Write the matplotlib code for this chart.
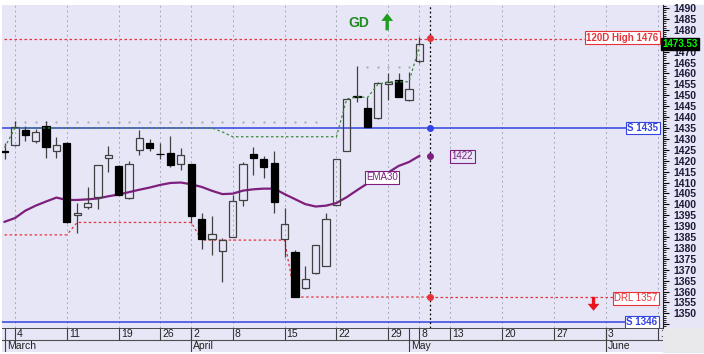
import numpy as np
import matplotlib
matplotlib.use("Agg")
import matplotlib.pyplot as plt
import matplotlib.transforms as mtransforms
from matplotlib.patches import Rectangle
from matplotlib.ticker import MultipleLocator, FuncFormatter

plt.rcParams['font.family'] = ['Liberation Sans', 'DejaVu Sans']

# daily candles (trading-day index 0..40)
opens = [1424.3, 1427.0, 1434.2, 1429.0, 1436.0, 1424.4, 1428.0, 1395.0, 1398.9, 1403.5,
         1421.4, 1417.7, 1402.8, 1424.9, 1428.0, 1423.3, 1423.4, 1418.3, 1418.3, 1393.1,
         1384.0, 1378.7, 1385.1, 1402.0, 1422.9, 1420.8, 1418.8, 1383.9, 1378.0, 1361.5,
         1368.3, 1371.7, 1399.7, 1424.6, 1449.5, 1444.0, 1439.4, 1455.1, 1457.0, 1447.8,
         1465.5]
highs = [1428.0, 1438.3, 1435.9, 1434.5, 1438.2, 1431.0, 1428.5, 1400.6, 1408.1, 1418.2,
         1426.9, 1417.9, 1419.9, 1434.1, 1430.0, 1428.0, 1431.5, 1425.7, 1418.5, 1396.1,
         1394.6, 1384.4, 1404.3, 1419.5, 1426.1, 1422.3, 1424.4, 1398.2, 1379.0, 1371.8,
         1381.5, 1395.9, 1420.8, 1448.5, 1463.6, 1449.3, 1456.0, 1460.1, 1460.4, 1460.8,
         1476.6]
lows = [1421.0, 1426.8, 1429.0, 1428.0, 1421.2, 1421.4, 1391.5, 1386.8, 1397.7, 1397.7,
        1415.0, 1404.2, 1402.5, 1422.6, 1424.4, 1420.8, 1417.3, 1415.7, 1391.6, 1379.4,
        1377.0, 1364.5, 1385.0, 1399.2, 1413.4, 1411.9, 1396.1, 1376.0, 1357.3, 1361.3,
        1368.0, 1371.5, 1399.5, 1424.4, 1446.8, 1435.5, 1439.2, 1447.8, 1449.0, 1447.6,
        1465.0]
closes = [1424.0, 1435.3, 1431.8, 1433.3, 1426.1, 1427.2, 1391.8, 1396.1, 1400.4, 1418.0,
          1422.6, 1404.3, 1418.3, 1430.5, 1426.0, 1423.0, 1418.0, 1422.6, 1394.6, 1384.3,
          1386.4, 1383.6, 1401.5, 1418.3, 1421.1, 1417.2, 1401.2, 1391.0, 1357.6, 1365.6,
          1381.3, 1393.1, 1420.6, 1448.3, 1449.1, 1435.6, 1455.5, 1456.0, 1449.4, 1452.8,
          1473.5]

ema30 = [1392.0, 1393.7, 1397.1, 1399.4, 1401.3, 1403.1, 1402.0, 1402.0, 1402.3, 1402.7,
         1403.7, 1404.5, 1405.6, 1406.7, 1407.7, 1408.9, 1409.8, 1410.0, 1409.2, 1408.0,
         1406.2, 1404.7, 1404.9, 1406.3, 1406.9, 1407.2, 1407.2, 1404.7, 1402.4, 1400.1,
         1399.0, 1399.4, 1400.6, 1403.3, 1406.5, 1409.6, 1412.0, 1414.6, 1417.6, 1419.4,
         1422.2]

trail_stop = [1426.0, 1435.0, 1435.0, 1435.0, 1435.0, 1435.0, 1435.0, 1435.0, 1435.0, 1435.0,
              1435.0, 1435.0, 1435.0, 1435.0, 1435.0, 1435.0, 1435.0, 1435.0, 1435.0, 1435.0,
              1435.0, 1433.2, 1431.0, 1431.0, 1431.0, 1431.0, 1431.0, 1431.0, 1431.0, 1431.0,
              1431.0, 1431.0, 1431.0, 1448.3, 1449.3, 1449.0, 1455.0, 1456.2, 1456.2, 1456.2,
              1472.3]

drl_line = [1386.0, 1386.0, 1386.0, 1386.0, 1386.0, 1386.0, 1386.0, 1391.7, 1391.7, 1391.7,
            1391.7, 1391.7, 1391.7, 1391.7, 1391.7, 1391.7, 1391.7, 1391.7, 1391.7, 1383.6,
            1383.6, 1383.6, 1383.6, 1383.6, 1383.6, 1383.6, 1383.6, 1383.6, 1357.5, 1357.5,
            1357.5, 1357.5, 1357.5, 1357.5, 1357.5, 1357.5, 1357.5, 1357.5, 1357.5, 1357.5,
            1357.5, 1357.5]

dots_a_days = list(range(1, 31))
dots_a_level = 1437.75
dots_b_days = list(range(35, 40))
dots_b_level = 1463.0

day_ticks = [1, 6, 11, 15, 18, 22, 27, 32, 37, 40, 43, 48, 53, 58, 63]
day_labels = ['4', '11', '19', '26', '2', '8', '15', '22', '29', '8', '13', '20', '27', '3', '10']
month_pos = [0, 18, 39, 58]
month_labels = ['March', 'April', 'May', 'June']

high_120d = 1476
support_hi = 1435
support_lo = 1346
drl_level = 1357
ema_last = 1422
last_price = 1473.53
marker_day = 41

bg = '#E6E6F6'
red = '#E8323A'
blue = '#3344E0'
purple = '#7E1F7E'
green = '#1E8C1E'

fig = plt.figure(figsize=(7.04, 3.54), dpi=100)
fig.patches.append(Rectangle((663 / 704, 26 / 354), 41 / 704, 323 / 354,
                             transform=fig.transFigure, color=bg, zorder=-5))
fig.patches.append(Rectangle((663 / 704, 2 / 354), 41 / 704, 24 / 354,
                             transform=fig.transFigure, color='#E9E9EC', zorder=-5))

ax = fig.add_axes([2 / 704, 26 / 354, 661 / 704, 323 / 354])
ax.set_facecolor(bg)
ax.set_xlim(-0.25, 63.5)
ax.set_ylim(1343.3, 1491.4)

# grid
ax.vlines(day_ticks, 1343.3, 1491.4, color='#A8A8BC', ls=(0, (2, 3)), lw=0.7, zorder=1)

# levels
ax.hlines(high_120d, -1, 56.5, color=red, ls=(0, (2, 2)), lw=0.9, zorder=2)
ax.hlines(support_hi, -1, 60.2, color=blue, lw=1.1, zorder=2)
ax.hlines(support_lo, -1, 60.0, color=blue, lw=1.1, zorder=2)
ax.plot(range(len(drl_line)), drl_line, color=red, ls=(0, (2, 2)), lw=0.9, zorder=2)
ax.hlines(drl_line[-1], marker_day, 58.9, color=red, ls=(0, (2, 2)), lw=0.9, zorder=2)

ax.plot(dots_a_days, [dots_a_level] * len(dots_a_days), ls='none', marker='.', ms=1.2,
        color='#A8A8B8', zorder=2)
ax.plot(dots_b_days, [dots_b_level] * len(dots_b_days), ls='none', marker='.', ms=1.2,
        color='#A8A8B8', zorder=2)

x = np.arange(len(opens))
ax.plot(x, ema30, color=purple, lw=1.6, zorder=2)

# candles
o = np.array(opens)
c = np.array(closes)
h = np.array(highs)
l = np.array(lows)
up = c >= o
blo = np.minimum(o, c)
bhi = np.maximum(o, c)
ax.vlines(x, bhi, h, color='#404040', lw=0.9, zorder=3)
ax.vlines(x, l, blo, color='#404040', lw=0.9, zorder=3)
ax.bar(x[up], (bhi - blo)[up], bottom=blo[up], width=0.7, facecolor='none',
       edgecolor='#404040', lw=0.9, zorder=4)
ax.bar(x[~up], (bhi - blo)[~up], bottom=blo[~up], width=0.7, facecolor='black',
       edgecolor='black', lw=0.9, zorder=4)

ax.plot(x, trail_stop, color='#3A8A3A', ls=(0, (2, 2)), lw=0.9, zorder=5)

# marker line and dots
ax.axvline(marker_day, color='black', ls=(0, (1.5, 2)), lw=0.9, zorder=5)
ax.plot([marker_day], [high_120d + 0.4], 'o', color=red, ms=4, zorder=6)
ax.plot([marker_day], [support_hi], 'o', color=blue, ms=4, zorder=6)
ax.plot([marker_day], [ema30[-1]], 'o', color=purple, ms=4, zorder=6)
ax.plot([marker_day], [drl_line[-1]], 'o', color=red, ms=4, zorder=6)

# labels
def tag(xv, yv, s, col, fc='white', bold=False, ha='right'):
    ax.text(xv, yv, s, color=col, fontsize=7, ha=ha, va='center',
            fontweight='bold' if bold else 'normal', zorder=7,
            bbox=dict(boxstyle='square,pad=0.15', fc=fc, ec=col, lw=0.8))

tag(63.05, high_120d + 0.4, '120D High %d' % high_120d, red, bold=True)
tag(63.05, support_hi, 'S %d' % support_hi, blue, bold=True)
tag(62.95, support_lo, 'S %d' % support_lo, blue, bold=True)
tag(62.95, drl_level, 'DRL %d' % drl_level, red)
tag(44.15, ema_last, '%d' % ema_last, purple, fc=bg, ha='center')
tag(36.4, 1412.5, 'EMA30', purple, ha='center')

ax.text(34.2, 1483, 'GD', color=green, fontweight='bold', fontsize=10,
        ha='center', va='center')
ax.annotate('', xy=(36.9, 1487.6), xytext=(36.9, 1479.8),
            arrowprops=dict(facecolor='#1E9E1E', edgecolor='none', width=2.4,
                            headwidth=8.5, headlength=5.5))
ax.annotate('', xy=(56.8, 1351.2), xytext=(56.8, 1357.6),
            arrowprops=dict(facecolor='#E8141E', edgecolor='none', width=2.4,
                            headwidth=8.5, headlength=5))

# right price axis
for s in ['top', 'left', 'bottom']:
    ax.spines[s].set_visible(False)
ax.spines['right'].set_color('#202020')
ax.yaxis.tick_right()
ax.yaxis.set_major_locator(MultipleLocator(5))
ax.yaxis.set_minor_locator(MultipleLocator(1))
ax.yaxis.set_major_formatter(FuncFormatter(lambda v, p: '' if v < 1348 or v == 1475 else '%d' % v))
ax.tick_params(axis='y', which='major', length=4, width=0.8, pad=3.5, labelsize=7.5,
               labelcolor='#1C1C3A')
ax.tick_params(axis='y', which='minor', length=2, width=0.6)
for t in ax.get_yticklabels():
    t.set_fontweight('bold')
ax.set_xticks([])

trans = mtransforms.blended_transform_factory(ax.transAxes, ax.transData)
ax.text(0.9985, last_price, '%.2f' % last_price, transform=trans, color='#00FF00',
        fontsize=7, fontweight='bold', ha='left', va='center', zorder=8, clip_on=False,
        bbox=dict(boxstyle='square,pad=0.12', fc='black', ec='black'))

# date band
axd = fig.add_axes([2 / 704, 2 / 354, 661 / 704, 24 / 354])
axd.set_facecolor(bg)
axd.set_xlim(ax.get_xlim())
axd.set_ylim(0, 1)
for s in axd.spines.values():
    s.set_visible(False)
axd.set_xticks([])
axd.set_yticks([])
axd.axhline(1, color='#303030', lw=1.2)
axd.axhline(0.5, color='#505050', lw=0.8)
axd.vlines(day_ticks, 0.5, 1, color='#404040', lw=0.8)
for t, lab in zip(day_ticks, day_labels):
    axd.text(t + 0.2, 0.74, lab, fontsize=7.5, ha='left', va='center', color='#202020',
             clip_on=True)
axd.vlines(month_pos, 0, 1, color='#404040', lw=0.8)
for m, lab in zip(month_pos, month_labels):
    axd.text(m + 0.2, 0.24, lab, fontsize=7.5, ha='left', va='center', color='#202020',
             clip_on=True)

fig.savefig('out.png', dpi=100)
